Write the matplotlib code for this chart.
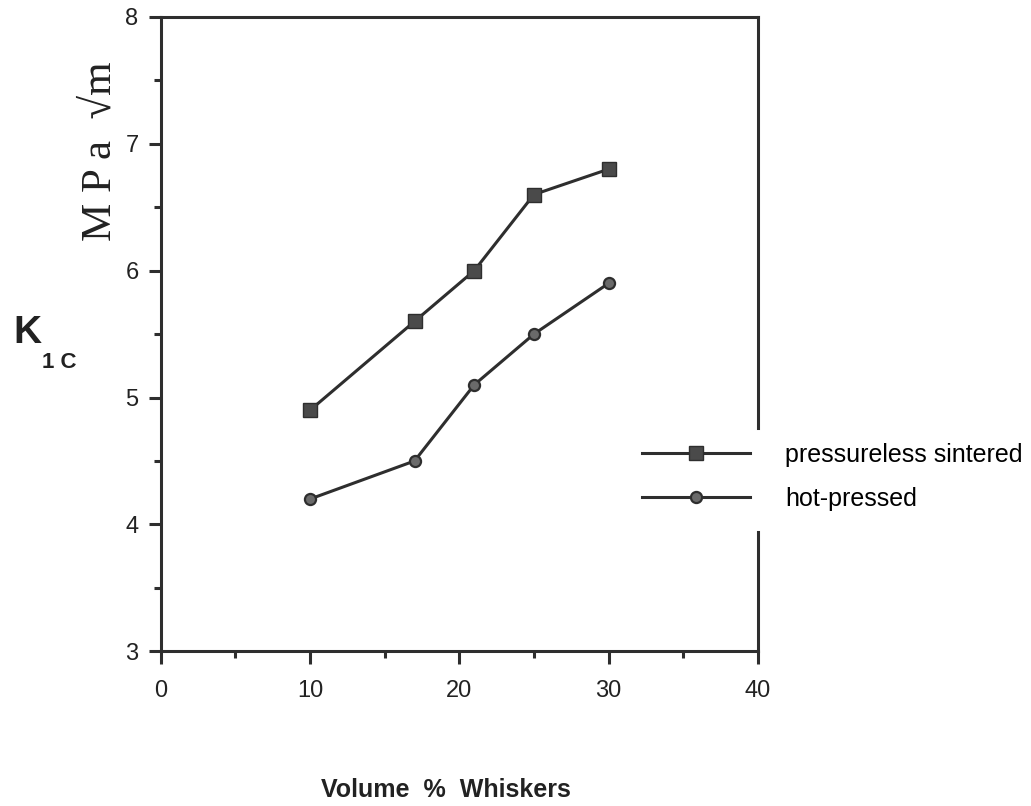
import numpy as np
import matplotlib
matplotlib.use("Agg")
import matplotlib.pyplot as plt

# values
vol_pct = [10, 17, 21, 25, 30]
k1c_sintered = [4.9, 5.6, 6.0, 6.6, 6.8]
k1c_hot_pressed = [4.2, 4.5, 5.1, 5.5, 5.9]
series_labels = ["pressureless sintered", "hot-pressed"]

plt.rcParams['font.family'] = ['Liberation Sans', 'DejaVu Sans']
ink = '#2e2e2e'

fig = plt.figure(figsize=(10.31, 8.06), dpi=100)
ax = fig.add_axes([0.156, 0.192, 0.579, 0.787])

ax.plot(vol_pct, k1c_sintered, color=ink, lw=2.2, marker='s', ms=10,
        mfc='#4a4a4a', mec=ink, label=series_labels[0])
ax.plot(vol_pct, k1c_hot_pressed, color=ink, lw=2.2, marker='o', ms=8,
        mfc='#6a6a6a', mec=ink, mew=1.6, label=series_labels[1])

ax.set_xlim(0, 40)
ax.set_ylim(3, 8)
ax.set_xticks(np.arange(0, 41, 10))
ax.set_xticks(np.arange(5, 40, 10), minor=True)
ax.set_yticks(np.arange(3, 9, 1))
ax.set_yticks(np.arange(3.5, 8, 1), minor=True)
ax.tick_params(which='major', direction='out', length=9, width=2.2,
               color=ink, labelsize=17, labelcolor='#222', pad=7)
ax.tick_params(axis='x', which='major', pad=12)
ax.tick_params(which='minor', direction='out', length=5, width=2.2, color=ink)

for side in ['left', 'bottom', 'top']:
    ax.spines[side].set_linewidth(2.2)
    ax.spines[side].set_color(ink)
# right frame is interrupted where the legend sits
ax.spines['right'].set_visible(False)
ax.axvline(40, ymin=0, ymax=0.188, color=ink, lw=2.2, clip_on=False)
ax.axvline(40, ymin=0.352, ymax=1, color=ink, lw=2.2, clip_on=False)

fig.legend(loc='center left', bbox_to_anchor=(0.623, 0.408), frameon=False,
           fontsize=18, handlelength=4.3, handletextpad=1.4,
           labelspacing=0.8, borderpad=0, borderaxespad=0)

fig.text(0.097, 0.812, "M P a  \u221am", family='Liberation Serif', fontsize=31,
         rotation=90, ha='center', va='center', color='#222')
fig.text(0.013, 0.587, "K", fontsize=28, fontweight='bold', ha='left',
         va='center', color='#222')
fig.text(0.041, 0.55, "1 C", fontsize=16, fontweight='bold', ha='left',
         va='center', color='#222')
fig.text(0.433, 0.02, "Volume  %  Whiskers", fontsize=18, fontweight='bold',
         ha='center', va='center', color='#222')

fig.savefig("out.png", dpi=100)
